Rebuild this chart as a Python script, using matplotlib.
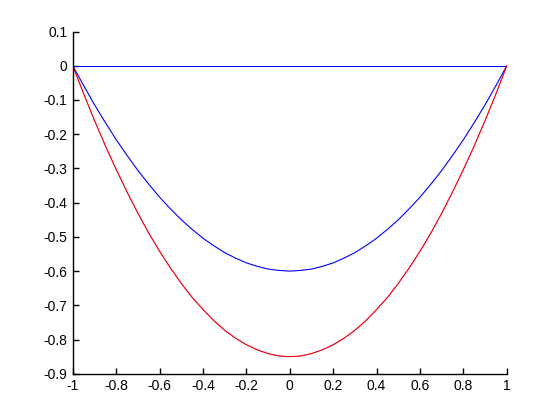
import matplotlib.pyplot as plt

plt.rcParams['font.family'] = ['Liberation Sans', 'DejaVu Sans']

# x positions, read every 0.05
x = [-1.0, -0.95, -0.9, -0.85, -0.8, -0.75, -0.7, -0.65, -0.6, -0.55, -0.5,
     -0.45, -0.4, -0.35, -0.3, -0.25, -0.2, -0.15, -0.1, -0.05, 0.0,
     0.05, 0.1, 0.15, 0.2, 0.25, 0.3, 0.35, 0.4, 0.45, 0.5,
     0.55, 0.6, 0.65, 0.7, 0.75, 0.8, 0.85, 0.9, 0.95, 1.0]
# upper blue curve
y_upper = [0.0, -0.058, -0.114, -0.166, -0.216, -0.262, -0.306, -0.346, -0.384, -0.418, -0.45,
           -0.478, -0.504, -0.526, -0.546, -0.562, -0.576, -0.586, -0.594, -0.598, -0.6,
           -0.598, -0.594, -0.586, -0.576, -0.562, -0.546, -0.526, -0.504, -0.478, -0.45,
           -0.418, -0.384, -0.346, -0.306, -0.262, -0.216, -0.166, -0.114, -0.058, 0.0]
# lower curve (red drawn over blue)
y_lower = [0.0, -0.082, -0.160, -0.234, -0.303, -0.369, -0.431, -0.489, -0.542, -0.591, -0.636,
           -0.677, -0.712, -0.745, -0.773, -0.796, -0.815, -0.830, -0.841, -0.848, -0.85,
           -0.848, -0.841, -0.830, -0.815, -0.796, -0.773, -0.745, -0.712, -0.677, -0.636,
           -0.591, -0.542, -0.489, -0.431, -0.369, -0.303, -0.234, -0.160, -0.082, 0.0]
# flat line at zero
y_zero = [0.0] * len(x)

xticks = [-1, -0.8, -0.6, -0.4, -0.2, 0, 0.2, 0.4, 0.6, 0.8, 1]
xticklabels = ['-1', '-0.8', '-0.6', '-0.4', '-0.2', '0', '0.2', '0.4', '0.6', '0.8', '1']
yticks = [0.1, 0, -0.1, -0.2, -0.3, -0.4, -0.5, -0.6, -0.7, -0.8, -0.9]
yticklabels = ['0.1', '0', '-0.1', '-0.2', '-0.3', '-0.4', '-0.5', '-0.6', '-0.7', '-0.8', '-0.9']

fig = plt.figure(figsize=(5.6, 4.2), dpi=100)
ax = fig.add_axes([0.13, 0.11, 0.775, 0.815])

ax.plot(x, y_zero, color='#0000ff', lw=0.7, antialiased=False)
ax.plot(x, y_upper, color='#0000ff', lw=0.8)
ax.plot(x, y_lower, color='#0000ff', lw=0.3)
ax.plot(x, y_lower, color='#ff0000', lw=0.8)

ax.set_xlim(-1, 1)
ax.set_ylim(-0.9, 0.1)
ax.set_xticks(xticks)
ax.set_xticklabels(xticklabels)
ax.set_yticks(yticks)
ax.set_yticklabels(yticklabels)

for side in ['top', 'right']:
    ax.spines[side].set_visible(False)
for side in ['left', 'bottom']:
    ax.spines[side].set_linewidth(1.0)
ax.tick_params(direction='in', length=4, width=1.0, labelsize=10, pad=4)

fig.savefig('out.png', dpi=100)
